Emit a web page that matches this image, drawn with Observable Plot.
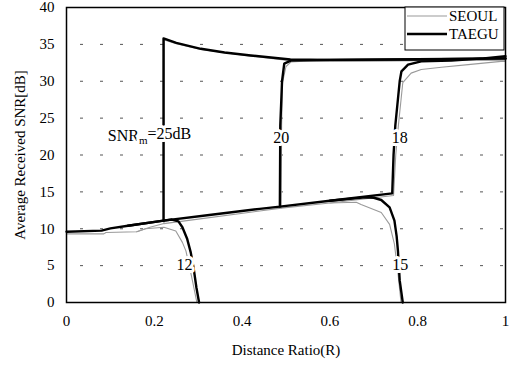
<!DOCTYPE html>
<html><head><meta charset="utf-8">
<script src="https://cdn.jsdelivr.net/npm/d3@7"></script>
<script src="https://cdn.jsdelivr.net/npm/@observablehq/plot@0.6"></script>
<style>
body{margin:0;background:#fff}
#chart svg{font-family:"Liberation Serif",serif;background:#fff}
</style>
</head><body><div id="chart"></div>
<script>
// ---- data ----
const xTicks = [0, 0.2, 0.4, 0.6, 0.8, 1];
const yTicks = [0, 5, 10, 15, 20, 25, 30, 35, 40];
const gridY = [5, 10, 15, 20, 25, 30, 35];

const taegu25 = [[0,9.6],[0.08,9.75],[0.1,10.05],[0.14,10.4],[0.221,11.1],[0.221,35.8],[0.25,35.2],[0.306,34.4],[0.36,33.9],[0.42,33.5],[0.51,32.95],[0.6,32.9],[0.8,32.95],[1,33.1]];
const taegu20 = [[0.221,11.1],[0.33,11.9],[0.44,12.7],[0.486,13.0],[0.487,24],[0.491,30],[0.496,32.4],[0.511,32.8],[0.6,32.9],[1,33.1]];
const taegu18 = [[0.486,13.0],[0.6,13.8],[0.742,14.8],[0.745,20],[0.749,24],[0.759,30],[0.763,31.35],[0.778,32.25],[0.808,32.7],[0.877,32.8],[0.95,33.1],[1,33.4]];
const taegu15 = [[0.6,13.8],[0.68,14.25],[0.70,14.2],[0.717,13.9],[0.736,12.9],[0.747,11.1],[0.752,9],[0.755,7.0],[0.759,3.0],[0.766,0]];
const taegu12 = [[0.14,10.4],[0.221,11.1],[0.24,11.25],[0.255,11.0],[0.264,10.2],[0.275,8.6],[0.283,6.8],[0.29,4.5],[0.296,2],[0.302,0]];

const seoul25 = [[0,9.3],[0.085,9.3],[0.09,9.5],[0.16,9.6],[0.19,10.2],[0.222,10.7],[0.223,35.6],[0.25,35.1],[0.306,34.3],[0.42,33.4],[0.51,32.8],[0.6,32.7],[0.8,32.8],[1,32.9]];
const seoul20 = [[0.222,10.7],[0.3,11.3],[0.44,12.4],[0.489,12.8],[0.49,24],[0.492,29.8],[0.5,32.0],[0.511,32.6],[0.55,32.75],[1,32.9]];
const seoul18 = [[0.489,12.8],[0.6,13.5],[0.745,14.5],[0.75,20],[0.756,24],[0.766,29.8],[0.785,31.1],[0.808,31.6],[0.854,31.9],[0.915,32.25],[0.99,32.7],[1,32.7]];
const seoul15 = [[0.6,13.5],[0.66,13.6],[0.671,13.3],[0.717,12.2],[0.736,10.6],[0.747,7.9],[0.755,4],[0.762,0]];
const seoul12 = [[0.16,9.6],[0.18,10.0],[0.222,10.2],[0.249,9.7],[0.264,8.15],[0.272,7.0],[0.285,3.5],[0.297,0]];

const labelText = ["SNRm=25dB", "20", "18", "12", "15"];
const labelX = [0.094, 0.489, 0.759, 0.269, 0.760];
const labelY = [22.6, 22.3, 22.3, 5.1, 5.1];
const labelAnchor = ["start", "middle", "middle", "middle", "middle"];

const cities = ["SEOUL", "TAEGU"];

// ---- build tables ----
function rowsOf(city, snr, pts) { return pts.map(([x, y]) => ({city, snr, key: city + snr, x, y})); }
const seoulRows = [].concat(rowsOf("SEOUL",25,seoul25), rowsOf("SEOUL",20,seoul20), rowsOf("SEOUL",18,seoul18), rowsOf("SEOUL",15,seoul15), rowsOf("SEOUL",12,seoul12));
const taeguRows = [].concat(rowsOf("TAEGU",25,taegu25), rowsOf("TAEGU",20,taegu20), rowsOf("TAEGU",18,taegu18), rowsOf("TAEGU",15,taegu15), rowsOf("TAEGU",12,taegu12));
const labels = labelText.map((t, i) => ({t, x: labelX[i], y: labelY[i], a: labelAnchor[i]}));

const chart = Plot.plot({
  width: 515, height: 366,
  marginLeft: 66, marginRight: 10, marginTop: 7, marginBottom: 64,
  style: {fontFamily: "Liberation Serif, serif", fontSize: "15px", color: "black", background: "white"},
  x: {domain: [0, 1]},
  y: {domain: [0, 40]},
  marks: [
    Plot.ruleY(gridY, {stroke: "#555", strokeWidth: 1, strokeDasharray: "3,17", strokeDashoffset: -14}),
    Plot.line(seoulRows, {x: "x", y: "y", z: "key", stroke: "#9a9a9a", strokeWidth: 1.1}),
    Plot.line(taeguRows, {x: "x", y: "y", z: "key", stroke: "black", strokeWidth: 2.4}),
    Plot.text(labels.filter(d => d.a === "middle"), {x: "x", y: "y", text: "t", fill: "black", stroke: "white", strokeWidth: 6, fontSize: 16}),
    Plot.text(labels.filter(d => d.a === "start"), {x: "x", y: "y", text: "t", textAnchor: "start", fill: "black", stroke: "white", strokeWidth: 6, fontSize: 16}),
    Plot.frame({stroke: "black", strokeWidth: 1.5}),
    Plot.axisX(xTicks, {tickSize: 0, tickPadding: 13, fontSize: 15, tickFormat: d => String(d), label: "Distance Ratio(R)", labelAnchor: "center", labelOffset: 52, labelArrow: "none"}),
    Plot.axisY(yTicks, {tickSize: 0, tickPadding: 12, fontSize: 15, label: "Average Received SNR[dB]", labelAnchor: "center", labelOffset: 52, labelArrow: "none"})
  ]
});

// subscript in the SNR_m label
d3.select(chart).selectAll("text").filter(function () { return this.textContent === "SNRm=25dB"; }).each(function () {
  const t = d3.select(this);
  t.text("");
  t.append("tspan").text("SNR");
  t.append("tspan").attr("dy", "0.3em").attr("font-size", "11px").text("m");
  t.append("tspan").attr("dy", "-0.3em").text("=25dB");
});

// legend box (top-right, inside the frame)
const svg = d3.select(chart);
const lg = svg.append("g").attr("font-family", "Liberation Serif, serif").attr("font-size", 15).attr("text-anchor", "start");
lg.append("rect").attr("x", 405).attr("y", 7).attr("width", 99).attr("height", 43).attr("fill", "white").attr("stroke", "black").attr("stroke-width", 1);
const legendColor = {SEOUL: "#9a9a9a", TAEGU: "black"};
const legendWidth = {SEOUL: 1.1, TAEGU: 2.4};
cities.forEach((c, i) => {
  const yy = 16 + i * 18;
  lg.append("line").attr("x1", 407).attr("x2", 447).attr("y1", yy).attr("y2", yy).attr("stroke", legendColor[c]).attr("stroke-width", legendWidth[c]);
  lg.append("text").attr("x", 449).attr("y", yy).attr("dy", "0.35em").attr("text-anchor", "start").text(c);
});

document.getElementById("chart").append(chart);
</script>
</body></html>
